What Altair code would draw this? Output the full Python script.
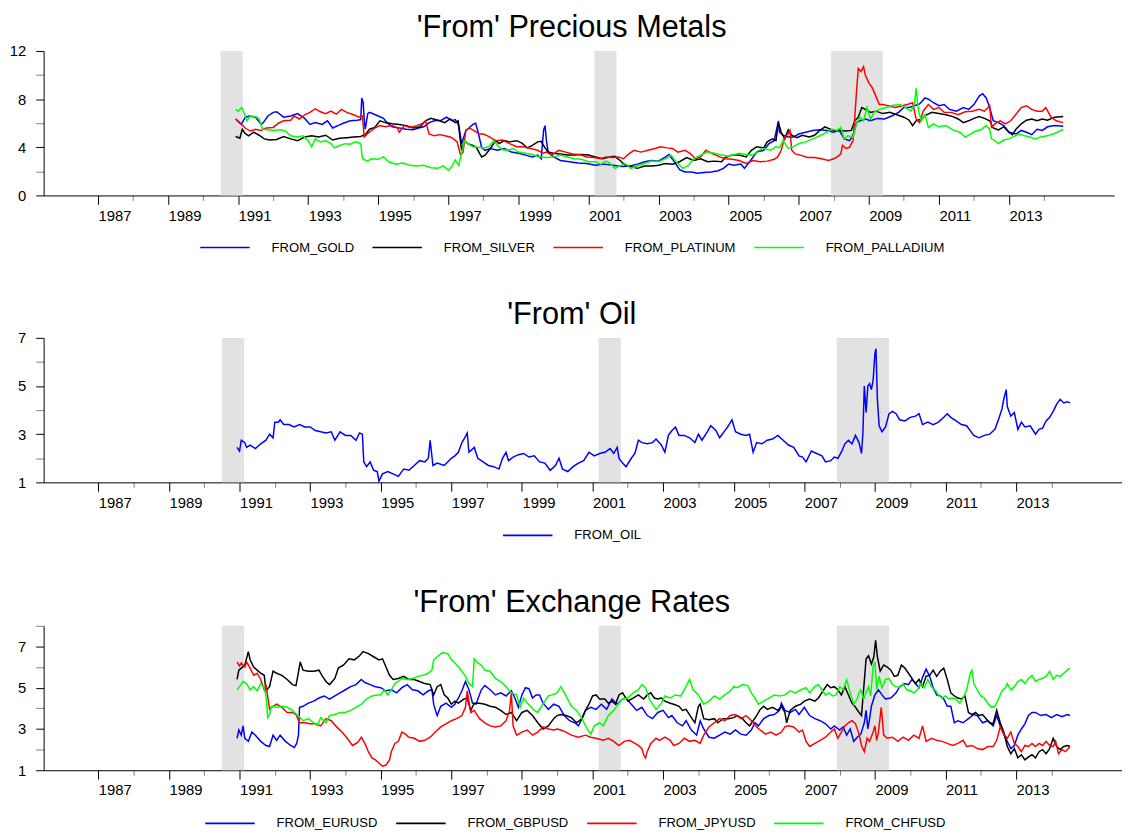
import altair as alt
import pandas as pd

FONT = "Liberation Sans"

X_MIN = 1985.45
X_MAX = 2016.0
TICK_YEARS = list(range(1987, 2015))
REC_START = [1990.5, 2001.17, 2007.92]
REC_END = [1991.13, 2001.8, 2009.4]

# ---------------- Precious metals ----------------
GOLD = [(1990.93,6.35),(1991.09,5.9),(1991.21,6.5),(1991.32,6.6),(1991.5,6.5),(1991.66,5.9),(1991.72,6.05),(1991.85,6.6),(1992.0,6.9),(1992.1,6.95),(1992.3,6.5),(1992.5,6.6),(1992.7,6.8),(1992.9,6.4),(1993.05,5.9),(1993.2,6.05),(1993.4,5.9),(1993.55,6.2),(1993.7,5.6),(1993.85,5.8),(1994.0,6.0),(1994.2,6.2),(1994.4,6.25),(1994.5,6.3),(1994.53,8.1),(1994.57,7.7),(1994.6,6.3),(1994.63,5.5),(1994.7,6.8),(1994.75,6.9),(1995.0,6.6),(1995.15,6.4),(1995.25,6.05),(1995.4,5.7),(1995.6,5.6),(1995.8,5.5),(1996.0,5.45),(1996.15,5.6),(1996.3,5.7),(1996.45,6.05),(1996.6,6.2),(1996.8,6.25),(1996.95,6.5),(1997.1,6.2),(1997.2,6.3),(1997.3,5.8),(1997.38,4.3),(1997.5,5.4),(1997.55,5.5),(1997.7,5.9),(1997.78,6.0),(1997.85,5.25),(1997.95,4.0),(1998.05,3.75),(1998.2,3.9),(1998.4,3.75),(1998.6,3.9),(1998.8,3.6),(1999.0,3.5),(1999.2,3.35),(1999.4,3.2),(1999.55,3.35),(1999.65,3.05),(1999.72,5.45),(1999.76,5.8),(1999.8,4.55),(1999.85,3.6),(2000.0,3.2),(2000.2,2.9),(2000.45,2.8),(2000.7,2.7),(2000.95,2.65),(2001.2,2.5),(2001.45,2.6),(2001.7,2.5),(2001.95,2.4),(2002.2,2.45),(2002.4,2.6),(2002.6,2.8),(2002.8,2.9),(2003.0,2.85),(2003.2,3.2),(2003.3,3.4),(2003.45,2.8),(2003.6,2.15),(2003.75,1.95),(2003.95,1.95),(2004.1,1.85),(2004.3,1.9),(2004.5,1.95),(2004.7,2.05),(2004.85,2.25),(2005.0,2.6),(2005.15,2.5),(2005.35,2.6),(2005.45,2.25),(2005.6,2.8),(2005.8,3.6),(2006.0,3.75),(2006.15,4.3),(2006.3,4.55),(2006.42,6.2),(2006.45,5.25),(2006.55,5.0),(2006.7,4.85),(2006.85,4.85),(2007.0,5.1),(2007.2,5.25),(2007.4,5.4),(2007.6,5.45),(2007.8,5.4),(2008.0,5.25),(2008.15,5.45),(2008.3,4.7),(2008.45,4.55),(2008.55,5.0),(2008.65,6.05),(2008.75,6.2),(2008.9,6.35),(2009.05,6.2),(2009.25,6.4),(2009.45,6.35),(2009.65,6.6),(2009.85,6.9),(2010.0,7.3),(2010.15,7.3),(2010.3,7.45),(2010.45,7.6),(2010.6,8.1),(2010.7,8.0),(2010.85,7.7),(2011.0,7.45),(2011.15,7.55),(2011.3,7.15),(2011.5,7.0),(2011.7,7.3),(2011.85,7.15),(2012.0,7.55),(2012.15,8.25),(2012.25,8.45),(2012.35,8.1),(2012.45,7.3),(2012.55,6.2),(2012.7,6.05),(2012.85,5.8),(2013.0,5.25),(2013.2,5.1),(2013.35,5.4),(2013.5,5.25),(2013.65,5.05),(2013.8,5.5),(2013.95,5.4),(2014.1,5.7),(2014.3,5.8),(2014.55,5.75)]

SILVER = [(1990.93,4.9),(1991.05,4.75),(1991.12,5.5),(1991.2,5.15),(1991.3,4.95),(1991.45,5.25),(1991.6,5.0),(1991.75,4.7),(1991.9,4.6),(1992.1,4.65),(1992.3,4.9),(1992.5,4.7),(1992.7,4.55),(1992.9,4.85),(1993.1,4.95),(1993.3,4.85),(1993.5,5.0),(1993.7,4.6),(1993.9,4.75),(1994.1,4.8),(1994.3,4.85),(1994.5,4.9),(1994.65,5.1),(1994.75,5.5),(1994.9,5.65),(1995.05,6.2),(1995.2,6.05),(1995.4,5.95),(1995.6,5.9),(1995.8,5.8),(1996.0,5.6),(1996.2,5.7),(1996.35,6.2),(1996.5,6.4),(1996.7,6.25),(1996.9,6.05),(1997.05,6.35),(1997.2,6.05),(1997.28,6.2),(1997.33,4.85),(1997.38,3.75),(1997.45,4.55),(1997.55,4.3),(1997.7,4.15),(1997.8,4.0),(1997.9,3.45),(1997.95,3.2),(1998.05,3.35),(1998.2,3.9),(1998.35,4.55),(1998.45,4.3),(1998.6,4.55),(1998.75,4.45),(1998.95,4.55),(1999.1,4.35),(1999.25,3.95),(1999.4,4.15),(1999.55,4.45),(1999.65,4.5),(1999.75,4.0),(1999.85,3.6),(2000.0,3.5),(2000.2,3.45),(2000.4,3.35),(2000.6,3.35),(2000.8,3.4),(2001.0,3.35),(2001.2,3.2),(2001.4,3.05),(2001.6,3.2),(2001.75,3.25),(2001.9,2.9),(2002.05,2.5),(2002.2,2.4),(2002.4,2.25),(2002.6,2.45),(2002.8,2.45),(2003.0,2.5),(2003.2,2.65),(2003.4,2.6),(2003.6,2.8),(2003.8,3.15),(2004.0,2.9),(2004.2,3.05),(2004.4,2.8),(2004.6,2.85),(2004.8,2.8),(2004.9,3.15),(2005.1,3.35),(2005.3,3.35),(2005.5,3.2),(2005.65,3.75),(2005.8,4.05),(2006.0,3.95),(2006.1,4.45),(2006.25,4.7),(2006.35,4.55),(2006.42,6.05),(2006.5,5.25),(2006.6,4.7),(2006.7,5.45),(2006.8,5.0),(2006.95,4.8),(2007.1,5.0),(2007.3,4.85),(2007.45,5.0),(2007.6,5.4),(2007.75,5.7),(2007.9,5.5),(2008.05,5.35),(2008.2,5.4),(2008.35,5.35),(2008.5,5.4),(2008.6,6.2),(2008.7,6.5),(2008.8,7.3),(2008.9,7.15),(2009.05,6.9),(2009.2,7.0),(2009.4,6.8),(2009.6,6.9),(2009.8,6.7),(2010.0,6.5),(2010.15,6.25),(2010.25,5.8),(2010.35,6.2),(2010.5,6.35),(2010.65,6.7),(2010.8,6.9),(2011.0,6.8),(2011.2,6.7),(2011.4,6.55),(2011.55,6.35),(2011.7,6.05),(2011.85,6.2),(2012.0,6.4),(2012.15,6.55),(2012.3,6.4),(2012.45,6.2),(2012.55,5.6),(2012.7,5.45),(2012.85,5.7),(2013.0,5.25),(2013.1,5.05),(2013.2,5.5),(2013.35,5.95),(2013.5,6.25),(2013.65,6.35),(2013.8,6.2),(2013.95,6.35),(2014.1,6.25),(2014.3,6.5),(2014.55,6.55)]

PLATINUM = [(1990.93,6.35),(1991.05,6.05),(1991.2,5.6),(1991.35,5.35),(1991.5,5.5),(1991.65,5.4),(1991.8,5.6),(1992.0,5.65),(1992.15,6.0),(1992.3,6.2),(1992.5,6.25),(1992.6,6.6),(1992.75,6.35),(1992.9,6.7),(1993.05,6.9),(1993.2,7.2),(1993.35,6.95),(1993.5,6.8),(1993.65,7.0),(1993.8,6.75),(1993.95,7.15),(1994.1,6.9),(1994.3,6.7),(1994.45,6.5),(1994.55,6.6),(1994.6,4.85),(1994.7,5.15),(1994.8,5.35),(1994.9,5.6),(1995.05,5.8),(1995.2,5.7),(1995.4,5.8),(1995.55,5.6),(1995.6,5.25),(1995.75,5.8),(1995.9,5.65),(1996.1,5.8),(1996.25,5.95),(1996.35,6.2),(1996.45,5.1),(1996.6,4.95),(1996.75,5.05),(1996.9,4.95),(1997.05,4.85),(1997.15,4.7),(1997.25,4.45),(1997.3,3.9),(1997.35,3.35),(1997.42,3.6),(1997.5,5.4),(1997.6,5.6),(1997.7,5.45),(1997.8,5.25),(1997.9,5.1),(1998.0,5.1),(1998.15,4.9),(1998.35,4.55),(1998.55,4.6),(1998.75,4.3),(1998.95,4.05),(1999.15,4.05),(1999.35,3.9),(1999.55,3.75),(1999.7,3.5),(1999.8,3.6),(1999.95,3.35),(2000.15,3.75),(2000.35,3.6),(2000.55,3.45),(2000.75,3.4),(2000.95,3.2),(2001.15,3.15),(2001.35,3.05),(2001.5,3.2),(2001.7,3.15),(2001.85,3.2),(2002.0,3.05),(2002.15,3.45),(2002.3,3.75),(2002.5,3.6),(2002.7,3.75),(2002.9,3.9),(2003.05,4.05),(2003.25,3.95),(2003.4,3.9),(2003.55,3.6),(2003.75,3.75),(2003.9,3.5),(2004.05,3.05),(2004.2,3.2),(2004.35,3.75),(2004.55,3.45),(2004.75,3.2),(2004.9,3.05),(2005.1,3.0),(2005.3,2.9),(2005.5,2.65),(2005.7,2.9),(2005.9,2.8),(2006.1,2.85),(2006.3,3.0),(2006.4,3.2),(2006.5,3.75),(2006.6,4.85),(2006.7,5.1),(2006.75,5.4),(2006.8,3.75),(2006.9,3.45),(2007.05,3.35),(2007.25,3.15),(2007.45,3.15),(2007.65,3.05),(2007.85,2.9),(2008.0,3.05),(2008.1,3.2),(2008.2,3.45),(2008.25,4.15),(2008.35,3.9),(2008.45,4.0),(2008.55,4.55),(2008.6,6.5),(2008.65,8.65),(2008.7,10.55),(2008.78,10.3),(2008.85,10.7),(2008.9,10.0),(2009.0,9.35),(2009.1,8.95),(2009.2,8.25),(2009.3,7.55),(2009.4,7.55),(2009.55,7.45),(2009.75,7.3),(2009.95,7.45),(2010.1,7.55),(2010.25,7.7),(2010.35,6.35),(2010.45,6.05),(2010.55,7.0),(2010.7,7.55),(2010.85,7.15),(2011.0,7.3),(2011.15,6.9),(2011.35,6.9),(2011.55,6.7),(2011.75,6.95),(2011.95,7.0),(2012.15,7.15),(2012.3,7.0),(2012.45,7.45),(2012.5,5.65),(2012.6,5.95),(2012.75,6.2),(2012.9,5.95),(2013.05,6.2),(2013.2,6.75),(2013.35,7.3),(2013.5,7.45),(2013.65,7.15),(2013.8,7.0),(2013.95,7.0),(2014.05,7.3),(2014.2,6.5),(2014.35,6.2),(2014.55,6.05)]

PALLADIUM = [(1990.93,7.15),(1991.0,7.0),(1991.1,7.3),(1991.15,7.0),(1991.25,6.2),(1991.35,6.6),(1991.5,6.55),(1991.6,6.35),(1991.7,5.5),(1991.85,5.45),(1992.0,5.4),(1992.2,5.45),(1992.35,5.35),(1992.5,4.95),(1992.7,4.85),(1992.85,4.95),(1993.0,4.55),(1993.1,4.05),(1993.2,4.7),(1993.35,4.45),(1993.5,4.55),(1993.65,4.3),(1993.75,3.95),(1993.9,4.15),(1994.05,4.3),(1994.2,4.25),(1994.35,4.45),(1994.5,4.3),(1994.55,3.05),(1994.7,2.85),(1994.8,3.05),(1995.0,3.0),(1995.15,3.2),(1995.3,2.8),(1995.5,2.6),(1995.7,2.7),(1995.9,2.5),(1996.1,2.45),(1996.3,2.5),(1996.5,2.3),(1996.7,2.25),(1996.85,2.45),(1997.0,2.1),(1997.1,2.4),(1997.2,2.95),(1997.3,2.5),(1997.35,3.2),(1997.4,3.75),(1997.45,4.55),(1997.55,4.3),(1997.7,4.05),(1997.85,4.0),(1998.0,3.95),(1998.15,4.05),(1998.3,4.55),(1998.4,4.15),(1998.55,3.8),(1998.7,3.75),(1998.85,3.9),(1999.0,3.6),(1999.2,3.5),(1999.4,3.4),(1999.6,3.2),(1999.8,3.15),(2000.0,3.2),(2000.2,3.35),(2000.4,3.2),(2000.6,3.05),(2000.8,3.0),(2001.0,2.8),(2001.2,2.8),(2001.35,2.6),(2001.5,2.85),(2001.6,2.7),(2001.75,2.25),(2001.9,2.45),(2002.05,2.65),(2002.2,2.25),(2002.4,2.45),(2002.6,2.65),(2002.8,2.85),(2003.0,2.8),(2003.2,3.05),(2003.35,3.35),(2003.5,2.8),(2003.7,2.25),(2003.85,2.5),(2004.0,3.05),(2004.2,3.35),(2004.4,3.6),(2004.6,3.5),(2004.8,3.35),(2005.0,3.25),(2005.3,3.5),(2005.5,3.4),(2005.7,3.35),(2005.85,3.75),(2006.0,3.9),(2006.2,3.75),(2006.35,4.05),(2006.45,3.95),(2006.55,4.55),(2006.7,3.9),(2006.85,4.05),(2007.0,4.3),(2007.2,4.45),(2007.4,4.7),(2007.6,4.95),(2007.8,5.25),(2007.95,5.5),(2008.1,5.4),(2008.2,5.65),(2008.3,4.7),(2008.4,4.95),(2008.55,4.85),(2008.65,5.95),(2008.75,6.5),(2008.85,6.2),(2008.95,7.3),(2009.05,6.35),(2009.15,6.9),(2009.3,7.15),(2009.5,7.3),(2009.7,7.5),(2009.9,7.55),(2010.05,7.3),(2010.2,7.0),(2010.3,7.6),(2010.35,8.9),(2010.42,7.0),(2010.5,6.2),(2010.6,6.75),(2010.7,5.65),(2010.85,5.95),(2011.0,5.7),(2011.2,5.8),(2011.4,5.45),(2011.6,5.25),(2011.75,4.85),(2011.9,5.1),(2012.05,5.35),(2012.2,5.45),(2012.35,5.8),(2012.45,5.5),(2012.5,4.7),(2012.6,4.55),(2012.7,4.3),(2012.85,4.6),(2013.0,4.7),(2013.15,4.9),(2013.3,5.1),(2013.45,4.95),(2013.6,4.85),(2013.75,4.7),(2013.9,4.85),(2014.1,4.95),(2014.3,5.15),(2014.55,5.5)]

# ---------------- Oil ----------------
OIL = [(1990.93,2.45),(1991.0,2.3),(1991.05,2.75),(1991.15,2.65),(1991.2,2.45),(1991.3,2.55),(1991.45,2.4),(1991.6,2.6),(1991.75,2.75),(1991.85,3.0),(1991.95,2.85),(1992.0,3.5),(1992.1,3.5),(1992.15,3.6),(1992.25,3.4),(1992.4,3.4),(1992.55,3.3),(1992.7,3.4),(1992.85,3.3),(1993.0,3.3),(1993.15,3.15),(1993.3,3.1),(1993.45,3.05),(1993.6,3.1),(1993.7,2.75),(1993.85,3.1),(1994.0,2.95),(1994.15,2.95),(1994.3,2.75),(1994.4,3.05),(1994.48,3.0),(1994.52,1.85),(1994.6,1.65),(1994.7,1.85),(1994.8,1.5),(1994.9,1.45),(1994.95,1.05),(1995.05,1.35),(1995.2,1.45),(1995.35,1.35),(1995.5,1.25),(1995.65,1.55),(1995.8,1.5),(1995.95,1.7),(1996.1,1.9),(1996.25,1.85),(1996.35,2.0),(1996.4,2.75),(1996.48,1.7),(1996.6,1.8),(1996.8,1.7),(1997.0,2.0),(1997.1,2.1),(1997.2,2.25),(1997.3,2.65),(1997.38,2.85),(1997.45,3.05),(1997.5,2.25),(1997.65,2.45),(1997.75,2.0),(1997.9,1.85),(1998.05,1.7),(1998.2,1.65),(1998.35,1.55),(1998.45,2.0),(1998.55,2.25),(1998.62,1.9),(1998.75,2.05),(1998.9,2.15),(1999.05,2.2),(1999.2,2.05),(1999.35,2.1),(1999.5,1.85),(1999.65,1.8),(1999.8,1.5),(1999.95,1.7),(2000.05,2.0),(2000.15,1.55),(2000.3,1.45),(2000.45,1.65),(2000.6,1.8),(2000.75,1.9),(2000.9,2.25),(2001.05,2.1),(2001.2,2.2),(2001.35,2.25),(2001.5,2.4),(2001.6,2.2),(2001.7,2.45),(2001.75,2.0),(2001.85,1.8),(2001.95,1.65),(2002.1,2.0),(2002.2,2.2),(2002.3,2.75),(2002.4,2.65),(2002.55,2.6),(2002.7,2.65),(2002.8,2.8),(2002.95,2.55),(2003.05,2.25),(2003.15,2.95),(2003.25,3.15),(2003.35,3.3),(2003.45,2.95),(2003.6,2.95),(2003.75,2.85),(2003.9,2.65),(2004.0,3.0),(2004.1,2.75),(2004.25,3.1),(2004.35,3.35),(2004.5,3.15),(2004.6,2.85),(2004.75,3.15),(2004.85,3.35),(2004.95,3.6),(2005.05,3.1),(2005.2,3.0),(2005.35,2.95),(2005.45,3.0),(2005.55,2.25),(2005.65,2.65),(2005.8,2.6),(2005.95,2.75),(2006.1,2.8),(2006.25,2.95),(2006.4,2.75),(2006.55,2.55),(2006.7,2.45),(2006.85,2.1),(2006.95,2.05),(2007.05,1.85),(2007.2,2.3),(2007.35,2.2),(2007.5,2.1),(2007.6,1.85),(2007.75,1.9),(2007.85,2.05),(2007.95,2.0),(2008.05,2.25),(2008.15,2.6),(2008.25,2.75),(2008.35,2.6),(2008.45,2.95),(2008.55,2.65),(2008.62,2.2),(2008.66,3.05),(2008.7,5.0),(2008.75,3.9),(2008.8,5.0),(2008.85,5.1),(2008.9,4.85),(2008.95,5.25),(2009.0,6.35),(2009.03,6.55),(2009.07,4.45),(2009.12,3.35),(2009.2,3.1),(2009.3,3.3),(2009.4,3.85),(2009.5,3.95),(2009.6,3.85),(2009.7,3.6),(2009.85,3.55),(2010.0,3.7),(2010.15,3.75),(2010.25,3.85),(2010.35,3.4),(2010.5,3.5),(2010.65,3.4),(2010.8,3.5),(2010.95,3.7),(2011.05,3.85),(2011.15,3.7),(2011.3,3.55),(2011.45,3.4),(2011.6,3.35),(2011.7,3.15),(2011.8,2.95),(2011.95,2.85),(2012.1,2.95),(2012.25,3.0),(2012.4,3.2),(2012.5,3.6),(2012.6,4.05),(2012.65,4.45),(2012.72,4.85),(2012.75,4.15),(2012.85,3.75),(2012.95,3.9),(2013.05,3.2),(2013.15,3.5),(2013.25,3.3),(2013.4,3.35),(2013.55,3.0),(2013.65,3.2),(2013.75,3.25),(2013.85,3.55),(2013.95,3.7),(2014.05,3.95),(2014.15,4.25),(2014.25,4.45),(2014.35,4.3),(2014.45,4.35),(2014.53,4.3)]

# ---------------- Exchange rates ----------------
EURUSD = [(1990.93,2.55),(1990.98,2.95),(1991.05,2.7),(1991.1,3.15),(1991.15,2.55),(1991.25,2.4),(1991.35,2.85),(1991.45,2.7),(1991.6,2.4),(1991.75,2.2),(1991.85,2.15),(1991.95,2.7),(1992.05,2.45),(1992.15,2.7),(1992.3,2.4),(1992.45,2.2),(1992.55,2.1),(1992.62,2.3),(1992.67,2.7),(1992.7,4.05),(1992.8,4.1),(1992.95,4.25),(1993.1,4.35),(1993.25,4.5),(1993.4,4.6),(1993.55,4.45),(1993.7,4.6),(1993.85,4.75),(1994.0,4.9),(1994.15,5.05),(1994.3,5.15),(1994.45,5.4),(1994.55,5.25),(1994.7,5.15),(1994.85,5.05),(1995.0,5.0),(1995.15,4.85),(1995.3,4.9),(1995.45,4.75),(1995.6,5.0),(1995.75,5.15),(1995.9,4.9),(1996.05,4.85),(1996.2,4.65),(1996.35,4.85),(1996.45,4.9),(1996.5,4.2),(1996.55,3.9),(1996.6,3.65),(1996.7,4.1),(1996.85,4.25),(1997.0,4.05),(1997.1,4.2),(1997.2,4.5),(1997.3,4.85),(1997.4,5.3),(1997.5,4.9),(1997.6,4.25),(1997.7,4.2),(1997.85,4.9),(1997.95,5.1),(1998.1,4.9),(1998.25,4.65),(1998.4,4.75),(1998.55,4.6),(1998.7,4.85),(1998.8,4.5),(1998.9,4.05),(1999.0,4.65),(1999.1,5.0),(1999.2,4.95),(1999.3,4.5),(1999.4,4.65),(1999.5,4.65),(1999.6,4.25),(1999.75,3.95),(1999.9,4.2),(2000.05,4.1),(2000.2,3.65),(2000.35,3.4),(2000.5,3.3),(2000.6,3.15),(2000.7,3.5),(2000.8,3.9),(2000.95,4.05),(2001.1,3.95),(2001.25,4.2),(2001.4,3.95),(2001.55,4.45),(2001.7,4.2),(2001.85,4.45),(2001.95,4.5),(2002.1,4.2),(2002.25,3.9),(2002.4,4.05),(2002.55,3.65),(2002.7,3.5),(2002.85,3.8),(2003.0,3.9),(2003.15,3.55),(2003.25,3.65),(2003.4,3.3),(2003.55,3.15),(2003.65,3.4),(2003.8,2.95),(2003.95,2.7),(2004.05,3.4),(2004.15,3.0),(2004.3,2.6),(2004.45,2.55),(2004.6,2.7),(2004.75,2.85),(2004.9,2.75),(2005.05,2.95),(2005.2,2.75),(2005.35,2.7),(2005.5,2.95),(2005.6,3.3),(2005.7,3.15),(2005.85,3.5),(2006.0,3.65),(2006.15,3.7),(2006.3,3.9),(2006.35,4.25),(2006.45,3.9),(2006.6,3.8),(2006.75,3.95),(2006.85,3.7),(2007.0,4.05),(2007.15,3.65),(2007.3,3.5),(2007.45,3.4),(2007.6,3.25),(2007.75,3.0),(2007.85,3.15),(2008.0,2.95),(2008.1,3.1),(2008.2,2.7),(2008.3,3.0),(2008.4,2.4),(2008.5,2.6),(2008.6,2.75),(2008.7,3.3),(2008.75,3.9),(2008.8,3.0),(2008.85,3.5),(2008.9,4.1),(2009.0,4.65),(2009.1,4.9),(2009.2,4.65),(2009.3,4.45),(2009.45,4.5),(2009.6,4.75),(2009.7,5.05),(2009.85,5.2),(2009.95,5.15),(2010.05,5.4),(2010.15,5.2),(2010.25,5.0),(2010.35,5.5),(2010.45,5.9),(2010.55,5.55),(2010.65,5.0),(2010.75,4.65),(2010.85,4.6),(2010.95,4.45),(2011.05,4.1),(2011.15,4.1),(2011.25,3.3),(2011.35,3.4),(2011.5,3.3),(2011.65,3.5),(2011.8,3.7),(2011.9,3.65),(2012.05,3.3),(2012.2,3.4),(2012.35,3.15),(2012.45,3.65),(2012.55,3.15),(2012.65,2.75),(2012.75,2.4),(2012.85,2.05),(2012.95,2.2),(2013.05,2.7),(2013.15,3.0),(2013.25,3.25),(2013.35,3.65),(2013.45,3.8),(2013.55,3.8),(2013.7,3.65),(2013.85,3.7),(2014.0,3.55),(2014.15,3.7),(2014.3,3.6),(2014.45,3.7),(2014.53,3.65)]

GBPUSD = [(1990.93,5.4),(1990.98,5.85),(1991.05,5.95),(1991.15,6.1),(1991.25,6.75),(1991.3,6.35),(1991.4,6.0),(1991.5,5.85),(1991.6,5.7),(1991.7,5.6),(1991.75,4.85),(1991.85,5.05),(1991.95,5.8),(1992.05,5.7),(1992.2,5.6),(1992.35,5.4),(1992.5,5.15),(1992.6,5.1),(1992.68,5.85),(1992.72,6.25),(1992.8,5.85),(1992.95,5.8),(1993.1,5.8),(1993.25,5.85),(1993.35,5.55),(1993.45,5.3),(1993.55,5.15),(1993.7,5.45),(1993.8,5.95),(1993.95,6.1),(1994.1,6.4),(1994.25,6.35),(1994.4,6.55),(1994.5,6.75),(1994.65,6.65),(1994.8,6.5),(1994.95,6.35),(1995.05,6.4),(1995.15,6.0),(1995.25,5.6),(1995.35,5.4),(1995.5,5.45),(1995.65,5.55),(1995.8,5.4),(1995.95,5.4),(1996.1,5.3),(1996.25,5.2),(1996.4,5.15),(1996.5,4.65),(1996.6,5.05),(1996.7,5.15),(1996.8,4.65),(1996.9,4.5),(1997.0,4.2),(1997.1,4.35),(1997.2,4.25),(1997.35,4.45),(1997.45,4.5),(1997.55,3.9),(1997.65,4.25),(1997.8,4.25),(1997.95,4.2),(1998.1,4.1),(1998.25,4.05),(1998.4,3.9),(1998.55,3.7),(1998.7,3.8),(1998.85,3.4),(1999.0,3.8),(1999.15,3.9),(1999.3,3.65),(1999.45,3.3),(1999.6,3.0),(1999.75,3.15),(1999.9,3.5),(2000.0,3.65),(2000.1,3.7),(2000.25,3.65),(2000.4,3.55),(2000.55,3.3),(2000.7,3.5),(2000.8,3.9),(2000.9,4.2),(2001.0,4.6),(2001.1,4.65),(2001.2,4.45),(2001.35,4.45),(2001.45,4.25),(2001.55,4.35),(2001.65,4.2),(2001.75,4.65),(2001.85,4.75),(2002.0,4.35),(2002.15,4.5),(2002.3,4.65),(2002.45,4.45),(2002.55,4.65),(2002.65,4.75),(2002.75,4.5),(2002.85,4.45),(2002.95,4.5),(2003.05,4.35),(2003.2,4.25),(2003.3,4.2),(2003.45,4.1),(2003.55,3.9),(2003.65,3.95),(2003.8,3.55),(2003.9,3.3),(2004.0,4.1),(2004.05,4.2),(2004.15,3.5),(2004.3,3.45),(2004.45,3.5),(2004.55,3.3),(2004.7,3.5),(2004.85,3.5),(2005.0,3.55),(2005.1,3.65),(2005.25,3.5),(2005.35,3.3),(2005.45,3.15),(2005.55,3.4),(2005.65,3.65),(2005.75,3.95),(2005.85,4.1),(2005.95,3.95),(2006.1,4.05),(2006.25,3.9),(2006.35,4.1),(2006.45,3.8),(2006.5,3.3),(2006.6,3.9),(2006.75,4.1),(2006.9,4.2),(2007.0,4.35),(2007.15,4.45),(2007.3,4.35),(2007.4,4.5),(2007.55,4.9),(2007.65,5.15),(2007.75,5.0),(2007.85,5.05),(2007.95,4.9),(2008.05,4.65),(2008.15,5.05),(2008.25,4.65),(2008.35,4.25),(2008.45,4.05),(2008.55,3.8),(2008.62,3.65),(2008.68,4.9),(2008.75,6.4),(2008.82,6.55),(2008.9,6.15),(2008.97,6.5),(2009.02,7.3),(2009.07,6.5),(2009.15,5.8),(2009.25,6.1),(2009.35,6.0),(2009.45,5.85),(2009.55,5.55),(2009.65,5.6),(2009.75,6.1),(2009.85,5.95),(2009.95,5.7),(2010.05,5.45),(2010.15,5.2),(2010.25,5.4),(2010.35,5.05),(2010.45,5.55),(2010.55,5.6),(2010.65,5.85),(2010.75,5.55),(2010.85,5.8),(2010.95,5.95),(2011.05,5.4),(2011.15,4.75),(2011.25,4.6),(2011.35,4.5),(2011.45,4.45),(2011.55,4.6),(2011.65,3.8),(2011.75,3.7),(2011.85,3.8),(2011.95,3.65),(2012.05,3.7),(2012.15,3.5),(2012.25,3.3),(2012.35,3.25),(2012.45,3.9),(2012.55,3.3),(2012.65,2.85),(2012.75,2.15),(2012.85,1.8),(2012.95,2.05),(2013.05,1.6),(2013.15,1.75),(2013.25,1.5),(2013.35,1.65),(2013.45,1.75),(2013.55,1.6),(2013.65,1.9),(2013.75,2.0),(2013.85,1.8),(2013.95,2.05),(2014.05,2.55),(2014.15,2.15),(2014.25,2.0),(2014.35,2.15),(2014.45,2.2),(2014.53,2.15)]

JPYUSD = [(1990.93,6.25),(1991.0,6.05),(1991.05,6.2),(1991.15,6.0),(1991.2,6.25),(1991.3,5.95),(1991.4,5.6),(1991.5,5.7),(1991.6,5.4),(1991.7,4.9),(1991.75,5.15),(1991.85,3.95),(1991.95,4.1),(1992.05,4.2),(1992.2,4.05),(1992.35,3.8),(1992.5,3.8),(1992.6,3.7),(1992.7,3.3),(1992.85,3.3),(1993.0,3.25),(1993.15,3.25),(1993.3,3.15),(1993.45,3.5),(1993.6,3.4),(1993.75,3.1),(1993.9,2.85),(1994.05,2.55),(1994.2,2.2),(1994.35,2.35),(1994.45,2.6),(1994.55,2.3),(1994.65,1.9),(1994.75,1.6),(1994.85,1.5),(1994.95,1.35),(1995.05,1.2),(1995.15,1.25),(1995.25,1.5),(1995.3,1.9),(1995.4,2.3),(1995.5,2.4),(1995.6,2.85),(1995.7,2.75),(1995.8,2.6),(1995.95,2.55),(1996.1,2.4),(1996.25,2.45),(1996.4,2.6),(1996.55,2.85),(1996.7,3.1),(1996.85,3.25),(1997.0,3.4),(1997.15,3.5),(1997.3,3.65),(1997.4,4.05),(1997.45,4.85),(1997.55,3.8),(1997.65,3.9),(1997.8,3.5),(1997.95,3.3),(1998.1,3.15),(1998.25,3.1),(1998.4,3.15),(1998.55,3.4),(1998.65,3.9),(1998.7,4.75),(1998.75,3.15),(1998.85,2.7),(1999.0,2.85),(1999.15,2.95),(1999.3,2.7),(1999.45,2.85),(1999.6,3.1),(1999.75,3.0),(1999.9,2.95),(2000.0,3.0),(2000.1,2.95),(2000.25,2.85),(2000.4,2.7),(2000.6,2.6),(2000.8,2.7),(2000.95,2.6),(2001.1,2.55),(2001.3,2.45),(2001.45,2.55),(2001.6,2.4),(2001.75,2.2),(2001.9,2.4),(2002.05,2.45),(2002.2,2.3),(2002.3,2.2),(2002.4,2.05),(2002.45,1.75),(2002.5,1.6),(2002.55,1.9),(2002.65,2.3),(2002.8,2.55),(2002.9,2.45),(2003.05,2.6),(2003.2,2.45),(2003.3,2.2),(2003.45,2.3),(2003.6,2.55),(2003.75,2.4),(2003.9,2.45),(2004.05,2.3),(2004.15,2.7),(2004.3,3.1),(2004.45,3.3),(2004.6,3.5),(2004.75,3.4),(2004.9,3.65),(2005.05,3.7),(2005.2,3.5),(2005.35,3.65),(2005.45,3.5),(2005.55,3.3),(2005.65,3.1),(2005.75,2.95),(2005.9,2.75),(2006.05,2.85),(2006.2,2.7),(2006.35,2.85),(2006.45,3.1),(2006.55,3.15),(2006.7,3.1),(2006.85,2.85),(2006.95,2.95),(2007.05,2.4),(2007.15,2.15),(2007.3,2.3),(2007.45,2.45),(2007.6,2.6),(2007.75,2.85),(2007.85,3.0),(2007.95,2.55),(2008.05,2.85),(2008.15,3.15),(2008.25,3.3),(2008.35,3.4),(2008.45,3.25),(2008.55,2.75),(2008.62,2.2),(2008.7,1.9),(2008.78,2.55),(2008.85,2.4),(2008.95,2.85),(2009.0,3.15),(2009.05,2.45),(2009.1,2.85),(2009.18,4.05),(2009.25,2.7),(2009.35,2.55),(2009.5,2.6),(2009.65,2.4),(2009.8,2.6),(2009.95,2.45),(2010.1,2.7),(2010.25,2.55),(2010.35,3.15),(2010.45,2.4),(2010.6,2.55),(2010.75,2.45),(2010.9,2.4),(2011.05,2.3),(2011.2,2.2),(2011.35,2.3),(2011.5,2.45),(2011.6,2.15),(2011.75,2.2),(2011.9,2.05),(2012.05,2.0),(2012.2,2.15),(2012.35,2.15),(2012.45,2.45),(2012.55,3.1),(2012.65,2.75),(2012.75,2.55),(2012.85,2.85),(2012.95,2.3),(2013.05,2.15),(2013.15,1.9),(2013.25,2.2),(2013.35,2.15),(2013.45,2.3),(2013.55,2.15),(2013.65,2.3),(2013.75,2.2),(2013.85,2.4),(2013.95,2.2),(2014.05,2.15),(2014.12,2.4),(2014.2,1.8),(2014.3,2.0),(2014.4,1.9),(2014.53,2.15)]

CHFUSD = [(1990.93,4.9),(1991.0,5.05),(1991.1,5.3),(1991.2,5.2),(1991.3,4.9),(1991.4,5.05),(1991.5,4.85),(1991.6,5.2),(1991.7,5.0),(1991.75,4.6),(1991.8,3.55),(1991.85,3.7),(1991.9,4.1),(1992.05,4.05),(1992.2,4.1),(1992.35,4.05),(1992.5,3.9),(1992.65,3.65),(1992.8,3.4),(1992.95,3.5),(1993.1,3.3),(1993.2,3.15),(1993.3,3.55),(1993.45,3.3),(1993.55,3.65),(1993.7,3.7),(1993.85,3.8),(1994.0,3.8),(1994.15,3.9),(1994.3,4.05),(1994.45,4.2),(1994.6,4.45),(1994.75,4.6),(1994.9,4.65),(1995.0,4.65),(1995.1,4.9),(1995.2,4.65),(1995.3,4.9),(1995.4,5.2),(1995.5,5.3),(1995.6,5.45),(1995.75,5.4),(1995.9,5.45),(1996.05,5.55),(1996.2,5.6),(1996.35,5.7),(1996.45,5.85),(1996.5,6.35),(1996.6,6.5),(1996.75,6.7),(1996.9,6.65),(1997.0,6.35),(1997.1,6.2),(1997.2,6.0),(1997.3,5.8),(1997.4,5.55),(1997.5,5.2),(1997.6,5.05),(1997.65,6.4),(1997.75,6.2),(1997.85,6.1),(1997.95,5.85),(1998.1,5.8),(1998.25,5.45),(1998.4,5.3),(1998.55,5.05),(1998.7,4.75),(1998.85,4.65),(1998.95,4.05),(1999.05,4.5),(1999.15,4.25),(1999.25,4.1),(1999.35,3.9),(1999.45,3.8),(1999.55,4.1),(1999.65,4.35),(1999.75,4.6),(1999.85,4.65),(2000.0,4.75),(2000.1,5.05),(2000.25,4.6),(2000.4,4.1),(2000.55,3.9),(2000.7,3.5),(2000.85,3.0),(2000.95,2.75),(2001.05,3.15),(2001.2,3.3),(2001.3,3.15),(2001.45,3.65),(2001.6,3.9),(2001.75,4.25),(2001.85,4.45),(2002.0,4.5),(2002.15,4.75),(2002.3,4.9),(2002.4,5.15),(2002.5,5.0),(2002.6,4.5),(2002.7,4.2),(2002.8,3.95),(2002.95,4.25),(2003.05,4.6),(2003.2,4.5),(2003.35,4.65),(2003.5,4.6),(2003.65,5.05),(2003.75,5.4),(2003.85,4.9),(2004.0,4.65),(2004.15,4.2),(2004.3,4.35),(2004.45,4.6),(2004.6,4.45),(2004.75,4.65),(2004.9,4.85),(2005.0,5.05),(2005.1,5.0),(2005.25,5.15),(2005.4,5.1),(2005.5,4.75),(2005.6,4.5),(2005.7,4.2),(2005.85,4.35),(2006.0,4.5),(2006.15,4.65),(2006.3,4.6),(2006.45,4.65),(2006.6,4.85),(2006.75,4.75),(2006.9,4.9),(2007.05,5.0),(2007.15,4.75),(2007.3,5.05),(2007.4,5.15),(2007.5,4.9),(2007.6,4.65),(2007.7,4.75),(2007.8,4.6),(2007.9,4.65),(2008.0,5.05),(2008.1,4.9),(2008.2,5.4),(2008.3,4.75),(2008.4,4.2),(2008.5,4.45),(2008.55,4.75),(2008.6,4.9),(2008.68,4.45),(2008.75,4.75),(2008.82,5.05),(2008.88,4.6),(2008.95,6.05),(2009.0,6.25),(2009.05,4.9),(2009.12,5.55),(2009.2,5.0),(2009.3,5.4),(2009.4,5.45),(2009.5,5.15),(2009.6,5.05),(2009.7,5.0),(2009.8,5.2),(2009.9,4.9),(2010.0,4.85),(2010.1,4.75),(2010.2,4.9),(2010.3,5.2),(2010.4,5.0),(2010.5,5.4),(2010.6,5.05),(2010.7,4.9),(2010.8,4.65),(2010.9,4.5),(2011.0,4.6),(2011.1,4.45),(2011.2,4.5),(2011.3,4.45),(2011.4,4.25),(2011.5,4.5),(2011.6,4.9),(2011.7,5.7),(2011.75,5.85),(2011.8,5.2),(2011.9,4.9),(2012.0,4.6),(2012.1,4.5),(2012.2,4.25),(2012.3,4.05),(2012.4,4.1),(2012.5,4.45),(2012.6,4.85),(2012.7,5.0),(2012.75,5.2),(2012.85,4.9),(2012.95,5.05),(2013.05,5.3),(2013.15,5.4),(2013.25,5.2),(2013.35,5.45),(2013.45,5.6),(2013.55,5.3),(2013.65,5.4),(2013.75,5.45),(2013.85,5.55),(2013.95,5.8),(2014.05,5.4),(2014.15,5.6),(2014.25,5.55),(2014.35,5.7),(2014.45,5.85),(2014.53,5.95)]

METAL_NAMES = ["FROM_GOLD", "FROM_SILVER", "FROM_PLATINUM", "FROM_PALLADIUM"]
OIL_NAMES = ["FROM_OIL"]
FX_NAMES = ["FROM_EURUSD", "FROM_GBPUSD", "FROM_JPYUSD", "FROM_CHFUSD"]
FOUR_COLORS = ["#0000ff", "#000000", "#ff0000", "#00ff00"]
OIL_COLORS = ["#0000ff"]


def long_table(names, series):
    rows = []
    for name, pts in zip(names, series):
        for t, v in pts:
            rows.append({"t": t, "v": v, "s": name})
    return pd.DataFrame(rows)


def panel(title, names, colors, series, y_dom, y_vals, label_test, minor_test,
          width, lx, ly, title_dx):
    xs = alt.Scale(domain=[X_MIN, X_MAX], nice=False, zero=False)
    ys = alt.Scale(domain=y_dom, nice=False, zero=False)
    xaxis = alt.Axis(
        title=None, grid=False, values=TICK_YEARS, format="d",
        labelExpr="datum.value % 2 == 1 ? datum.label : ''",
        labelAlign="left", labelBaseline="top", labelPadding=4,
        labelFlush=False, labelOverlap=False, labelFontSize=15,
        tickSize={"condition": {"test": "datum.value % 2 == 1", "value": 9}, "value": 5},
        tickColor={"condition": {"test": "datum.value % 2 == 1", "value": "#000000"},
                   "value": "#808080"},
        domainColor="#000000")
    yaxis = alt.Axis(
        title=None, grid=False, values=y_vals,
        labelExpr=f"({label_test}) ? datum.label : ''",
        labelPadding=10, tickSize=8, labelFontSize=15, labelOverlap=False,
        tickColor={"condition": {"test": minor_test, "value": "#808080"},
                   "value": "#000000"},
        domainColor="#000000")
    rec = pd.DataFrame({"a": REC_START, "b": REC_END})
    shade = alt.Chart(rec).mark_rect(color="#e2e2e2").encode(
        x=alt.X("a:Q", scale=xs, axis=xaxis),
        x2="b:Q",
        y=alt.YDatum(y_dom[1], type="quantitative", scale=ys, axis=yaxis),
        y2=alt.Y2Datum(y_dom[0]),
    )
    legend = alt.Legend(
        title=None, orient="none", legendX=lx, legendY=ly, direction="horizontal",
        symbolType="M-5,0L5,0", symbolSize=100, symbolStrokeWidth=1.6,
        symbolOffset=18.75, labelOffset=40.5, columnPadding=15, padding=0,
        labelFont=FONT, labelFontSize=13.2, labelColor="#000000", labelLimit=300)
    lines = alt.Chart(long_table(names, series)).mark_line(strokeWidth=1.5).encode(
        x=alt.X("t:Q", scale=xs, axis=xaxis),
        y=alt.Y("v:Q", scale=ys, axis=yaxis),
        color=alt.Color("s:N", sort=names,
                        scale=alt.Scale(domain=names, range=colors), legend=legend),
    )
    return alt.layer(shade, lines).properties(
        width=width, height=146,
        title=alt.TitleParams(title, anchor="middle", frame="bounds", offset=0,
                              dx=title_dx, font=FONT, fontSize=31,
                              fontWeight="normal", color="#000000"),
    )


p1 = panel("'From' Precious Metals", METAL_NAMES, FOUR_COLORS,
           [GOLD, SILVER, PLATINUM, PALLADIUM], [0, 12], [0, 2, 4, 6, 8, 10, 12],
           "datum.value % 4 == 0", "datum.value % 4 != 0", 1082, 158, 192, 10)
p2 = panel("'From' Oil", OIL_NAMES, OIL_COLORS, [OIL], [1, 7], [1, 2, 3, 4, 5, 6, 7],
           "datum.value % 2 == 1", "datum.value % 2 == 0", 1090, 464, 193, 2)
p3 = panel("'From' Exchange Rates", FX_NAMES, FOUR_COLORS,
           [EURUSD, GBPUSD, JPYUSD, CHFUSD], [1, 8], [1, 2, 3, 4, 5, 6, 7, 8],
           "datum.value % 2 == 1", "datum.value % 2 == 0", 1090, 163, 193, 2)

chart = alt.concat(p1, p2, p3, columns=1, spacing=46, align="none").resolve_scale(
    color="independent", x="independent", y="independent"
).resolve_legend(color="independent").properties(
    padding={"left": 1, "top": 0, "right": 0, "bottom": 0}, background="white"
).configure_view(stroke=None).configure_axis(
    labelFont=FONT, labelColor="#000000", domainWidth=1, tickWidth=1
)

chart.save("out.html", embed_options={"renderer": "svg", "actions": False})
